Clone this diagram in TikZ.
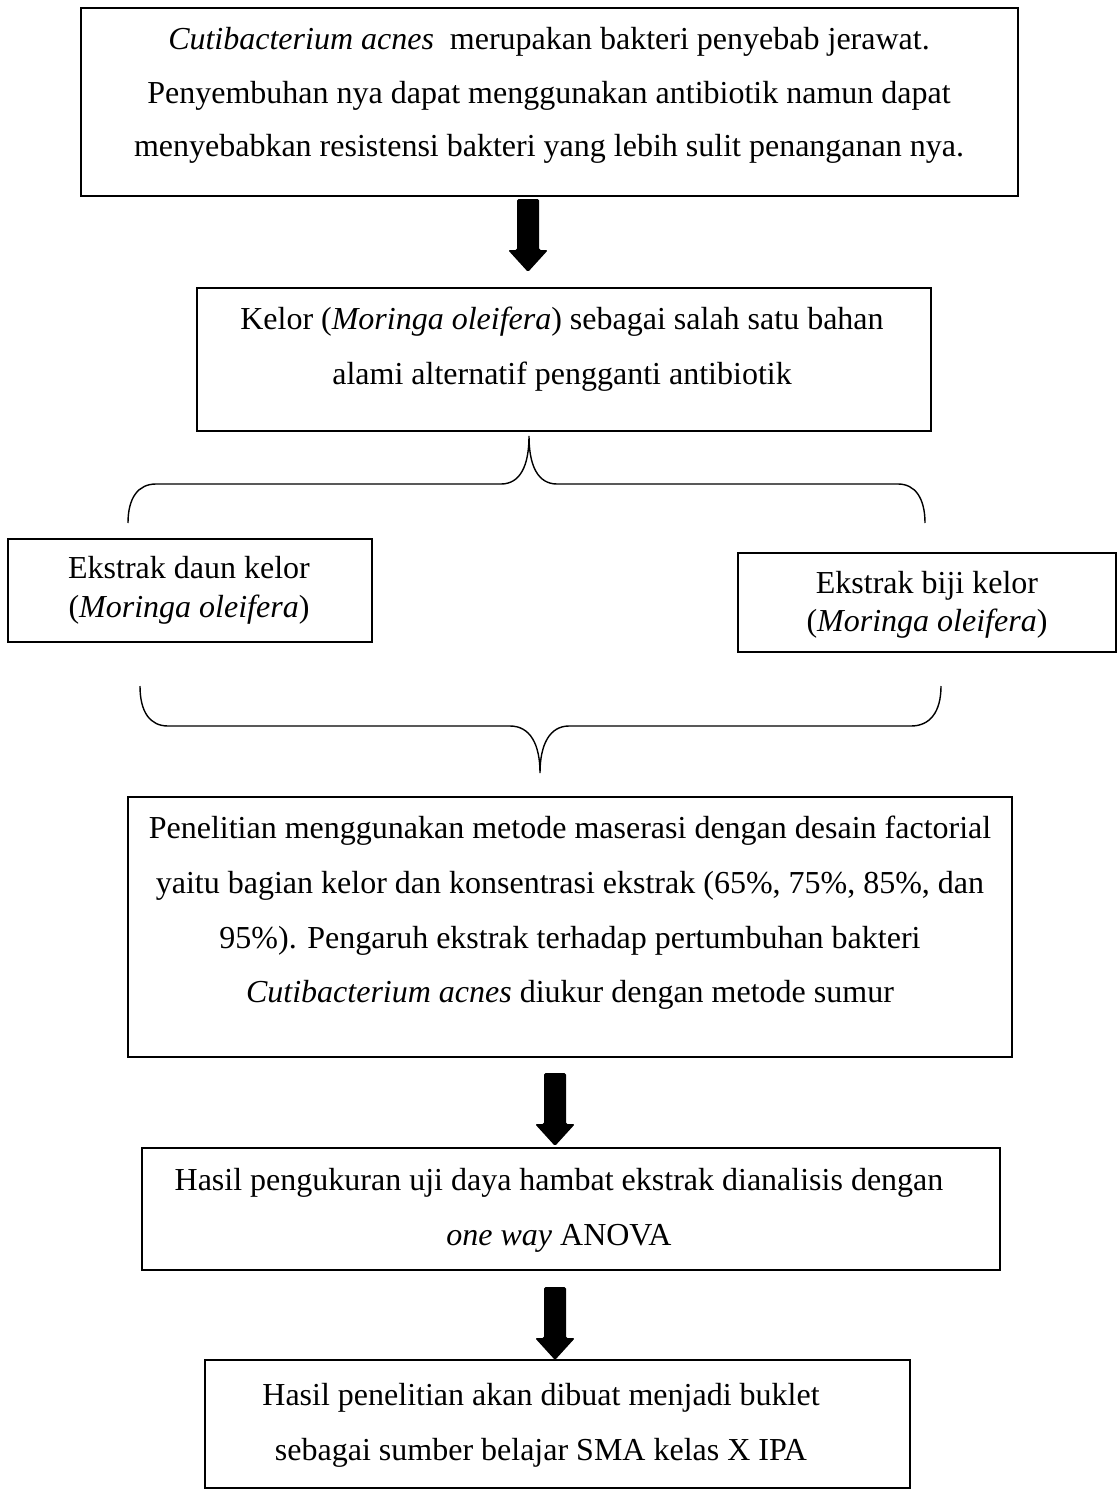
\documentclass[tikz,border=0pt]{standalone}
\usepackage{fontspec}
\setmainfont{Liberation Serif}
\begin{document}
\begin{tikzpicture}[x=1pt,y=-1pt,
  box/.style={draw, line width=1.6pt, inner sep=0pt},
  txt/.style={anchor=base, inner sep=0pt, font=\fontsize{32}{38}\selectfont},
  brace/.style={line width=1.4pt},
  blockarrow/.style={fill=black, rounded corners=1.5pt}]
\useasboundingbox (0,0) rectangle (1118,1490);
% boxes
\node[box, minimum width=937, minimum height=188] (b1) at (549.5,102) {};
\node[box, minimum width=734, minimum height=143] (b2) at (564,359.5) {};
\node[box, minimum width=364, minimum height=103] (b3) at (190,590.5) {};
\node[box, minimum width=378, minimum height=99] (b4) at (927,602.5) {};
\node[box, minimum width=884, minimum height=260] (b5) at (570,927) {};
\node[box, minimum width=858, minimum height=122] (b6) at (571,1209) {};
\node[box, minimum width=705, minimum height=128] (b7) at (557.5,1424) {};
% texts
\node[txt] (t1a) at (549,50) {\textit{Cutibacterium acnes}\ \ merupakan bakteri penyebab jerawat.};
\node[txt] (t1b) at (549,104) {Penyembuhan nya dapat menggunakan antibiotik namun dapat};
\node[txt] (t1c) at (549,157) {menyebabkan resistensi bakteri yang lebih sulit penanganan nya.};
\node[txt] (t2a) at (562,329) {Kelor (\textit{Moringa oleifera}) sebagai salah satu bahan};
\node[txt] (t2b) at (562,384) {alami alternatif pengganti antibiotik};
\node[txt] (t3a) at (189,578) {Ekstrak daun kelor};
\node[txt] (t3b) at (189,617) {(\textit{Moringa oleifera})};
\node[txt] (t4a) at (927,593) {Ekstrak biji kelor};
\node[txt] (t4b) at (927,631) {(\textit{Moringa oleifera})};
\node[txt] (t5a) at (570,838) {Penelitian menggunakan metode maserasi dengan desain factorial};
\node[txt] (t5b) at (570,893) {yaitu bagian kelor dan konsentrasi ekstrak (65\%, 75\%, 85\%, dan};
\node[txt] (t5c) at (570,948) {95\%). Pengaruh ekstrak terhadap pertumbuhan bakteri};
\node[txt] (t5d) at (570,1002) {\textit{Cutibacterium acnes} diukur dengan metode sumur};
\node[txt] (t6a) at (559,1190) {Hasil pengukuran uji daya hambat ekstrak dianalisis dengan};
\node[txt] (t6b) at (559,1245) {\textit{one way} ANOVA};
\node[txt] (t7a) at (541,1405) {Hasil penelitian akan dibuat menjadi buklet};
\node[txt] (t7b) at (541,1460) {sebagai sumber belajar SMA kelas X IPA};
% block arrows
\coordinate (a1) at (528,199);
\coordinate (a2) at (555,1073);
\coordinate (a3) at (555,1287);
\foreach \a in {a1,a2,a3}{
  \fill[blockarrow] (\a) ++(-11,0) -- ++(0,51) -- ++(-9,0) -- ++(20,22) -- ++(20,-22) -- ++(-9,0) -- ++(0,-51) -- cycle;
}
% top brace
\coordinate (tb) at (529,436);
\draw[brace] (128,523) .. controls (128,498) and (138,484) .. (156,484)
  -- (501,484) .. controls (520,484) and (529,466) .. (tb)
  .. controls (529,466) and (538,484) .. (557,484)
  -- (898,484) .. controls (915,484) and (925,498) .. (925,523);
% bottom brace
\coordinate (bb) at (540,773);
\draw[brace] (140,686) .. controls (140,712) and (150,726) .. (168,726)
  -- (510,726) .. controls (530,726) and (540,744) .. (bb)
  .. controls (540,744) and (550,726) .. (569,726)
  -- (911,726) .. controls (930,726) and (941,712) .. (941,686);
\end{tikzpicture}
\end{document}
